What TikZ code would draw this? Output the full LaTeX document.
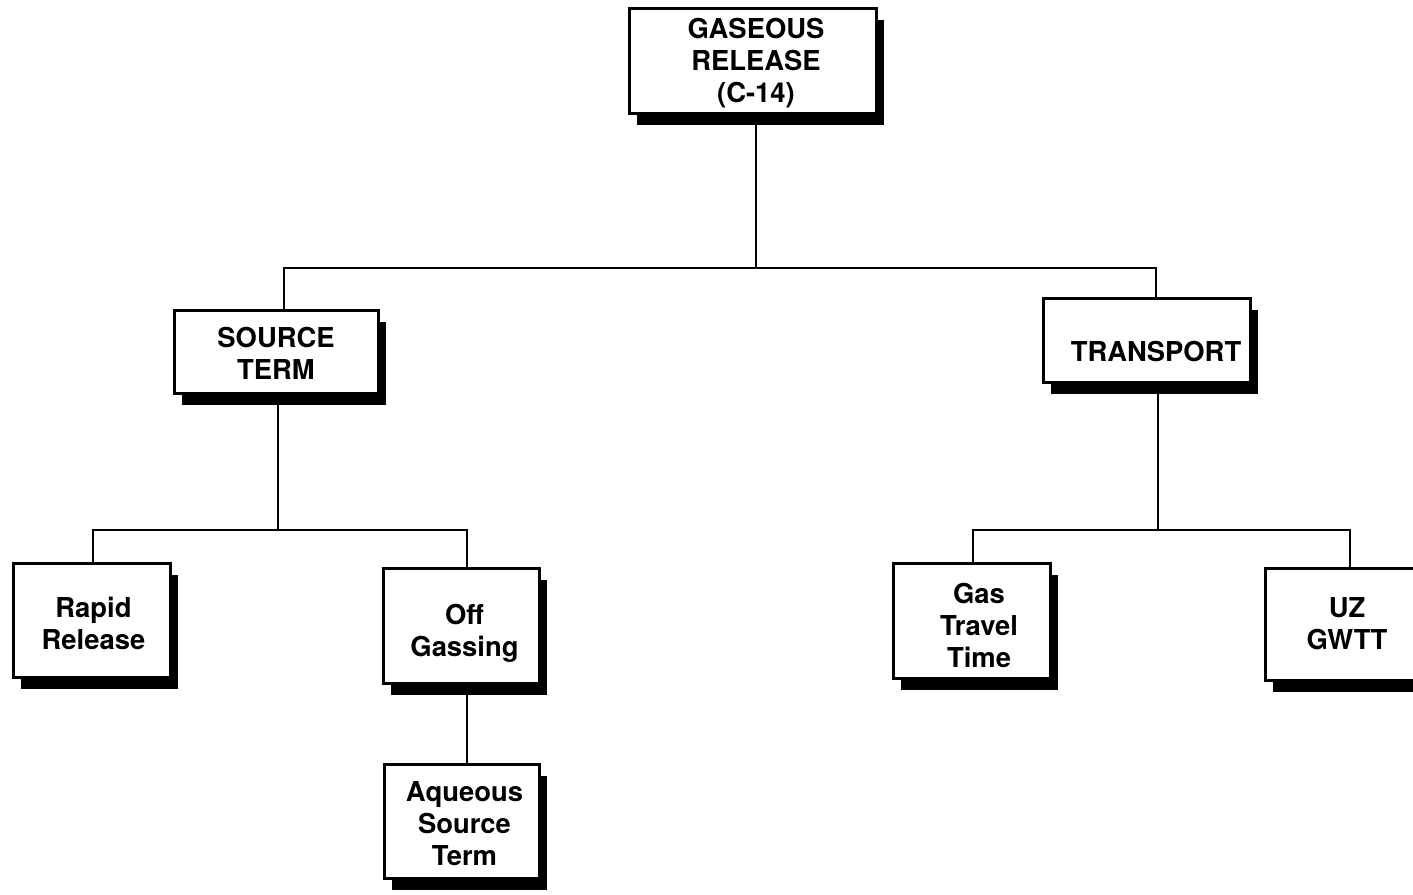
\documentclass[tikz,border=0pt]{standalone}
\usepackage{fontspec}
\setmainfont{TeX Gyre Heros}
\usetikzlibrary{shadows,calc}
\tikzset{
  blockbox/.style={draw,line width=1.5pt,fill=white,inner sep=0pt,
    drop shadow={shadow xshift=4pt,shadow yshift=-6pt,fill=black,opacity=1}},
  boxtext/.style={inner sep=0pt,align=center,font=\fontsize{13.7}{16}\selectfont\bfseries},
  link/.style={line width=1.2pt}
}
\begin{document}
\begin{tikzpicture}[x=0.5pt,y=-0.5pt]
    \useasboundingbox (0,0) rectangle (1413,894);

    \node[blockbox,minimum width=123.5pt,minimum height=52.5pt](gas) at (752.5,60.5){};
    \node[blockbox,minimum width=102pt,minimum height=41.5pt](src) at (276,351.5){};
    \node[blockbox,minimum width=103.5pt,minimum height=42pt](trn) at (1146.5,340){};
    \node[blockbox,minimum width=78.5pt,minimum height=57pt](rap) at (91.5,620){};
    \node[blockbox,minimum width=78pt,minimum height=57.5pt](off) at (461,625.5){};
    \node[blockbox,minimum width=77.5pt,minimum height=57pt](aqu) at (461.5,821){};
    \node[blockbox,minimum width=78.5pt,minimum height=57.5pt](gtt) at (971.5,620.5){};
    \node[blockbox,minimum width=78.5pt,minimum height=56pt](uz) at (1343.5,624){};

    \node[boxtext](gas-t) at ([shift={(3.5,3)}]gas.center){GASEOUS\\RELEASE\\(C-14)};
    \node[boxtext](src-t) at ([shift={(0,2)}]src.center){SOURCE\\TERM};
    \node[boxtext](trn-t) at ([shift={(9.5,12)}]trn.center){TRANSPORT};
    \node[boxtext](rap-t) at ([shift={(2,3.5)}]rap.center){Rapid\\Release};
    \node[boxtext](off-t) at ([shift={(3.5,7.5)}]off.center){Off\\Gassing};
    \node[boxtext](aqu-t) at ([shift={(3,3)}]aqu.center){Aqueous\\Source\\Term};
    \node[boxtext](gtt-t) at ([shift={(7.5,4.5)}]gtt.center){Gas\\Travel\\Time};
    \node[boxtext](uz-t) at ([shift={(3.5,0)}]uz.center){UZ\\GWTT};

    \coordinate (j1) at (756,268);
    \coordinate (j2) at (278,530);
    \coordinate (j3) at (1158,530);

    \draw[link](j1 |- gas.south)--(j1);
    \draw[link]([xshift=4pt]src.north) |- (j1) -| ([xshift=4.75pt]trn.north);

    \draw[link]([xshift=1pt]src.south)--(j2);
    \draw[link]([xshift=0.75pt]rap.north) |- (j2) -| ([xshift=3pt]off.north);
    \draw[link]([xshift=3pt]off.south)--([xshift=2.75pt]aqu.north);

    \draw[link]([xshift=5.75pt]trn.south)--(j3);
    \draw[link]([xshift=0.75pt]gtt.north) |- (j3) -| ([xshift=3.25pt]uz.north);
\end{tikzpicture}
\end{document}
